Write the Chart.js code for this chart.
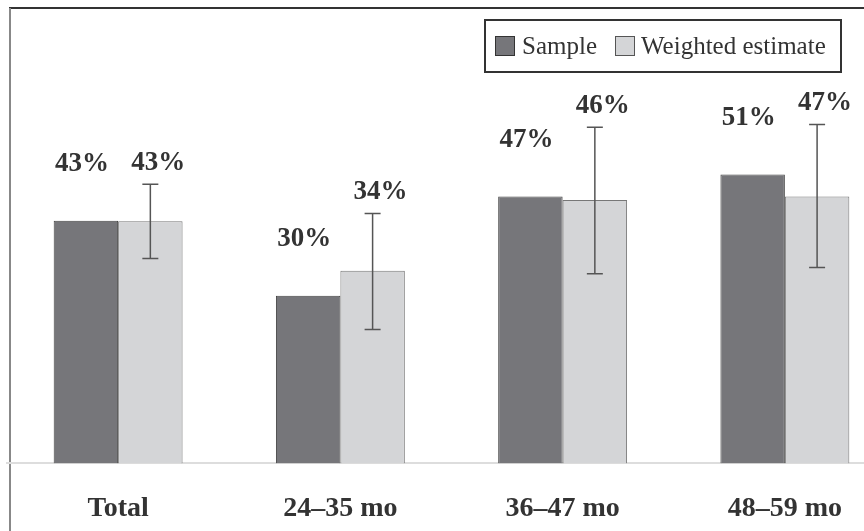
<!DOCTYPE html>
<html>
<head>
<meta charset="utf-8">
<script src="https://cdn.jsdelivr.net/npm/chart.js@4"></script>
<style>
  html, body { margin: 0; padding: 0; background: #fff; overflow: hidden; }
  #wrap { width: 864px; height: 531px; overflow: hidden; }
</style>
</head>
<body>
<div id="wrap"><canvas id="bars" width="900" height="560"></canvas></div>
<script>
var categories = ['Total', '24\u201335 mo', '36\u201347 mo', '48\u201359 mo'];
var sample = [43.1, 29.8, 47.4, 51.3];
var weighted = [43.0, 34.2, 46.8, 47.4];
var sampleLabels = ['43%', '30%', '47%', '51%'];
var weightedLabels = ['43%', '34%', '46%', '47%'];
var errLow = [36.4, 23.8, 33.7, 34.8];
var errHigh = [49.6, 44.4, 59.7, 60.2];

var serif = '"Liberation Serif", "Times New Roman", serif';
var sampleColor = '#76767a';
var weightedColor = '#d4d5d7';

var decorations = {
    id: 'decorations',
    beforeDraw: function (chart) {
        var c = chart.ctx;
        c.save();
        c.fillStyle = '#fff';
        c.fillRect(0, 0, chart.width, chart.height);
        // frame
        c.strokeStyle = '#333';
        c.lineWidth = 2;
        c.beginPath();
        c.moveTo(9, 8);
        c.lineTo(chart.width, 8);
        c.stroke();
        c.strokeStyle = '#888';
        c.beginPath();
        c.moveTo(10, 8);
        c.lineTo(10, chart.height);
        c.stroke();
        c.restore();
    },
    afterDatasetsDraw: function (chart) {
        var c = chart.ctx;
        var y = chart.scales.y;
        var m0 = chart.getDatasetMeta(0);
        var m1 = chart.getDatasetMeta(1);
        c.save();
        // error bars on weighted estimate
        c.strokeStyle = '#555';
        c.lineWidth = 1.5;
        m1.data.forEach(function (bar, i) {
            var top = y.getPixelForValue(errHigh[i]);
            var bot = y.getPixelForValue(errLow[i]);
            c.beginPath();
            c.moveTo(bar.x, top); c.lineTo(bar.x, bot);
            c.moveTo(bar.x - 8, top); c.lineTo(bar.x + 8, top);
            c.moveTo(bar.x - 8, bot); c.lineTo(bar.x + 8, bot);
            c.stroke();
        });
        // value labels
        c.fillStyle = '#333';
        c.font = 'bold 27px ' + serif;
        c.textAlign = 'center';
        c.textBaseline = 'alphabetic';
        m0.data.forEach(function (bar, i) {
            c.fillText(sampleLabels[i], bar.x - 4, bar.y - 50);
        });
        m1.data.forEach(function (bar, i) {
            c.fillText(weightedLabels[i], bar.x + 8, y.getPixelForValue(errHigh[i]) - 14);
        });
        // legend
        c.fillStyle = '#fff';
        c.fillRect(485, 20, 356, 52);
        c.strokeStyle = '#333';
        c.lineWidth = 2;
        c.strokeRect(485, 20, 356, 52);
        c.lineWidth = 1;
        c.fillStyle = sampleColor;
        c.fillRect(495.5, 36.5, 19, 19);
        c.strokeRect(495.5, 36.5, 19, 19);
        c.fillStyle = weightedColor;
        c.fillRect(615.5, 36.5, 19, 19);
        c.strokeStyle = '#555';
        c.strokeRect(615.5, 36.5, 19, 19);
        c.fillStyle = '#333';
        c.font = '25px ' + serif;
        c.textAlign = 'left';
        c.fillText('Sample', 522, 54);
        c.fillText('Weighted estimate', 641, 54);
        c.restore();
    }
};

new Chart(document.getElementById('bars'), {
    type: 'bar',
    data: {
        labels: categories,
        datasets: [{
            label: 'Sample',
            data: sample,
            backgroundColor: sampleColor,
            borderColor: '#444',
            borderWidth: 1
        }, {
            label: 'Weighted estimate',
            data: weighted,
            backgroundColor: weightedColor,
            borderColor: '#777',
            borderWidth: 1
        }]
    },
    options: {
        responsive: false,
        animation: false,
        devicePixelRatio: 1,
        layout: { padding: { left: 7, right: 4, top: 13, bottom: 5 } },
        datasets: { bar: { categoryPercentage: 0.58, barPercentage: 1 } },
        plugins: { legend: { display: false }, tooltip: { enabled: false } },
        scales: {
            x: {
                grid: { display: false, drawTicks: false },
                border: { display: true, color: '#ddd', width: 2 },
                ticks: {
                    padding: 29,
                    color: '#333',
                    font: { family: serif, size: 28, weight: 'bold' }
                }
            },
            y: {
                display: false,
                min: 0,
                max: 80
            }
        }
    },
    plugins: [decorations]
});
</script>
</body>
</html>
